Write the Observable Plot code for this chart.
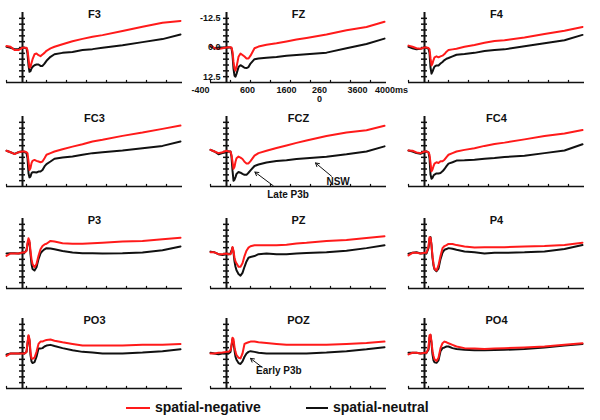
<!DOCTYPE html>
<html><head><meta charset="utf-8">
<script src="https://cdn.jsdelivr.net/npm/d3@7"></script>
<script src="https://cdn.jsdelivr.net/npm/@observablehq/plot@0.6"></script>
<style>
body{margin:0;background:#fff;}
#wrap{position:relative;width:600px;height:420px;font-family:"Liberation Sans",Arial,sans-serif;}
.panel{position:absolute;}
.leg{position:absolute;top:399px;font:bold 14px "Liberation Sans",Arial,sans-serif;color:#111;white-space:nowrap;line-height:16px;}
.legline{position:absolute;top:407px;height:2px;}
</style></head><body><div id="wrap"></div>
<script>
// time grid (ms)
const times = [-400,-300,-200,-100,0,50,100,125,150,175,200,225,250,300,350,400,450,500,550,600,700,800,1000,1250,1500,1750,2000,2500,3000,3500,3950];

// amplitudes (µV, negative plotted up)
const F3_neg = [-0.6,-0.3,1.1,1.1,0.1,0.1,0.1,1.1,4.7,8.6,8.3,6.6,5.1,2.9,2.6,3.3,3.7,3.0,2.3,1.4,0.4,-0.3,-1.4,-2.7,-3.7,-4.6,-5.3,-7.1,-8.9,-10.6,-11.4];
const F3_neu = [-0.3,0.1,0.7,0.6,0.1,0.1,0.3,2.6,7.6,10.4,10.1,9.0,8.3,7.6,7.3,7.3,7.9,7.9,6.9,5.7,4.0,2.9,2.3,1.9,1.1,0.7,0.1,-1.0,-2.3,-3.6,-5.6];
const FZ_neg = [-1.2,0.3,0.6,0.3,0,-0.1,-0.1,0,1.8,6.2,9.1,9.9,8.4,4.0,2.6,3.2,3.9,4.7,4.7,3.5,0.3,-0.4,-1.2,-1.8,-2.6,-3.4,-4.1,-5.6,-7.4,-8.8,-11.0];
const FZ_neu = [-0.4,0.3,0,0,0,0,0,0.3,3.2,9.1,12.1,12.5,11.3,8.4,7.6,8.1,8.7,8.8,8.4,6.9,5.0,4.7,4.4,4.1,3.5,3.2,2.9,2.2,0.3,-1.5,-3.8];
const F4_neg = [-0.8,-0.3,0.3,0.5,0,0,0.2,0.8,4.6,7.7,6.9,5.4,4.2,3.8,4.2,3.8,3.5,2.8,1.8,1.1,0.8,0.5,-0.3,-1.1,-2.0,-2.8,-3.1,-4.3,-5.8,-7.2,-8.8];
const F4_neu = [-0.3,0.3,0.8,0.5,0,0.2,0.5,2.3,8.5,11.2,10.3,9.2,8.2,7.7,7.7,6.9,6.2,5.4,4.8,4.5,3.8,3.1,2.8,2.3,1.5,1.1,0.8,-0.5,-1.8,-3.1,-5.4];
const FC3_neg = [-0.3,0.3,1.1,0.3,0,0,0.3,0.7,4.3,7.9,7.1,5.0,4.0,3.6,4.0,4.3,4.6,4.3,2.9,1.4,0.7,0,-1.0,-2.1,-3.1,-4.3,-5.0,-6.7,-8.1,-9.7,-11.1];
const FC3_neu = [-0.3,0.3,1.0,0.3,0,0.3,0.7,2.9,9.3,11.1,10.7,9.3,8.9,8.9,9.0,8.6,8.6,7.9,6.4,5.4,4.3,3.1,2.6,2.1,1.4,0.7,0.3,-0.4,-1.4,-2.4,-4.3];
const FCZ_neg = [-0.7,0,0.7,0.3,-0.3,0,0,1.5,4.4,7.4,6.6,4.4,2.9,2.2,2.6,3.2,4.4,5.1,5.1,4.1,1.8,0.7,-0.3,-1.5,-2.6,-3.7,-4.7,-6.6,-8.1,-9.1,-11.0];
const FCZ_neu = [-0.7,0,1.2,0.7,0.3,0,0,2.2,8.1,12.5,12.1,11.0,9.6,8.8,9.1,9.6,10.0,10.0,9.1,8.1,6.2,5.6,4.7,4.1,3.7,3.2,2.9,2.2,1.2,0,-2.2];
const FC4_neg = [-0.4,-0.3,0.4,0.7,0,0,0.4,1.4,4.9,8.5,7.7,6.3,5.2,4.6,4.9,4.2,4.2,3.5,2.4,1.4,0.7,0,-0.7,-1.4,-2.4,-3.2,-3.8,-5.2,-6.6,-7.7,-9.2];
const FC4_neu = [-0.4,0,0.7,1.0,0.3,0,0.4,2.8,9.9,11.7,11.3,10.3,9.9,9.4,9.4,9.2,8.5,7.5,6.3,5.2,4.6,3.9,3.8,3.5,3.1,2.8,2.4,1.8,0.7,-0.4,-3.1];
const P3_neg = [1.0,0,0,0,-0.4,-0.4,-1.1,-4.6,-6.5,-5.4,-1.1,2.4,4.5,5.9,4.5,1.0,-1.8,-3.2,-3.9,-4.2,-5.4,-5.1,-4.4,-4.2,-4.2,-4.4,-4.6,-5.1,-5.4,-6.1,-6.8];
const P3_neu = [0,-0.1,-0.1,0,-0.4,-0.4,-1.4,-3.9,-5.6,-4.6,0.3,4.5,6.6,7.3,5.9,2.4,0,-1.1,-1.8,-2.3,-2.1,-1.8,-1.1,-0.4,-0.1,-0.1,0,-0.1,-0.4,-1.4,-3.0];
const PZ_neg = [-0.5,-0.5,0.3,0.3,0,0.3,0.3,-0.5,-2.8,-1.2,1.8,3.4,4.2,5.7,5.7,4.2,1.1,-1.2,-2.5,-3.1,-3.5,-3.5,-3.5,-3.5,-3.8,-4.3,-4.6,-5.4,-5.8,-6.6,-7.4];
const PZ_neu = [-0.8,-0.5,0.3,0.6,0.3,0.3,0,-1.2,-2.5,-0.5,3.4,5.7,7.2,8.8,9.5,8.3,5.7,3.4,1.8,1.5,1.1,0.3,0,0.3,0.3,0,-0.2,-0.5,-1.2,-2.3,-3.5];
const P4_neg = [0.8,-0.3,-0.3,0,-0.3,-0.3,-3.0,-7.0,-6.8,-3.6,1.1,4.5,6.5,7.3,5.1,1.1,-2.3,-3.2,-3.6,-4.1,-4.1,-3.6,-3.0,-2.6,-2.7,-2.7,-2.7,-3.0,-3.2,-3.6,-4.6];
const P4_neu = [0.1,-0.3,-0.5,0,-0.3,0,-2.3,-6.3,-7.0,-3.6,1.8,5.1,6.8,7.6,6.5,2.4,-0.3,-1.6,-1.9,-2.3,-2.0,-1.6,-0.9,-0.5,0,-0.3,-0.3,-0.5,-0.9,-1.9,-3.6];
const PO3_neg = [1.0,0,0,0,0,0,-0.7,-4.8,-7.8,-6.2,-0.7,2.1,2.3,1.8,-0.7,-4.1,-5.1,-5.1,-5.5,-5.8,-6.0,-5.5,-4.8,-4.1,-3.4,-3.4,-3.4,-3.4,-3.7,-3.8,-4.1];
const PO3_neu = [0.4,0,0,0,-0.3,0,-0.7,-4.1,-7.5,-5.5,0.7,3.4,4.1,3.7,1.4,-2.1,-2.1,-2.3,-3.0,-3.4,-3.7,-3.2,-2.3,-1.4,-0.7,-0.4,0,0,-0.4,-1.0,-1.8];
const POZ_neg = [0,0,-0.3,-0.4,-0.7,-0.7,-1.4,-3.4,-6.8,-6.2,-2.7,-0.7,0.7,1.8,2.1,0,-4.1,-4.5,-4.8,-5.1,-5.1,-4.8,-4.5,-4.1,-3.7,-3.7,-3.7,-3.7,-4.1,-4.5,-5.1];
const POZ_neu = [-0.3,0,0.3,0,0,0,-0.7,-3.4,-6.2,-4.8,-1.4,1.4,2.7,4.1,4.5,3.4,1.4,0,-0.7,-1.0,-0.7,-0.3,0,0,0,0,0,-0.4,-1.0,-1.8,-2.7];
const PO4_neg = [0.4,-0.3,-0.3,0,-0.3,-0.3,-2.3,-7.8,-8.1,-5.1,-1.0,1.1,2.5,3.2,1.8,-2.3,-4.4,-5.1,-4.8,-4.4,-3.7,-3.0,-2.3,-2.1,-1.9,-2.1,-2.3,-2.6,-3.0,-3.7,-4.4];
const PO4_neu = [-0.3,-0.3,-0.3,0,-0.3,-0.3,-1.6,-6.7,-7.8,-4.4,0.4,2.9,3.8,4.0,2.9,-1.0,-2.3,-2.6,-3.0,-3.0,-2.3,-1.9,-1.6,-1.4,-1.4,-1.5,-1.6,-1.9,-2.6,-3.4,-4.1];

const channelNames = ["F3","FZ","F4","FC3","FCZ","FC4","P3","PZ","P4","PO3","POZ","PO4"];
const negSeries = [F3_neg,FZ_neg,F4_neg,FC3_neg,FCZ_neg,FC4_neg,P3_neg,PZ_neg,P4_neg,PO3_neg,POZ_neg,PO4_neg];
const neuSeries = [F3_neu,FZ_neu,F4_neu,FC3_neu,FCZ_neu,FC4_neu,P3_neu,PZ_neu,P4_neu,PO3_neu,POZ_neu,PO4_neu];

// axes
const xTicks = [-400,100,600,1100,1600,2100,2600,3100,3600];
const xTickValues = [-400,600,1600,2600,3600,4000];
const xTickLabels = ["-400","600","1600","260\n0","3600","4000ms"];
const yTicks = [-12.5,-10,-7.5,-5,-2.5,0,2.5,5,7.5,10,12.5];
const yTickValues = [-12.5,0,12.5];
const yTickLabels = ["-12.5","0.0","12.5"];

// annotations
const annoText = ["NSW","Late P3b","Early P3b"];
const annoChannel = ["FCZ","FCZ","POZ"];
const annoHeadT = [2225,710,600];
const annoHeadV = [4.9,8.8,2.1];
const annoTailT = [2625,1170,890];
const annoTailV = [10.6,14.7,5.9];
const annoLabelT = [2790,1540,1310];
const annoLabelV = [12.9,18.4,7.5];

const legendLabels = ["spatial-negative","spatial-neutral"];
const colors = ["#ff1a1a","#111111"];

const wrap = document.getElementById("wrap");
const colLeft = [6,210,408];
const rowTop = [12,116,218,318];
const W = 176, H = 70;
const ink = "#111";
// horizontal nudges of the FZ tick labels, as printed in the source figure
const xLabelNudge = [-10,-3,-4,-11,-13,5];

channelNames.forEach((name,i)=>{
  const col = i%3, row = Math.floor(i/3);
  const neg = negSeries[i], neu = neuSeries[i];
  const marks = [
    Plot.ruleY([15], {stroke: ink, strokeWidth: 1.5}),
    Plot.ruleX(xTicks, {x: d=>d, y1: 15, y2: 14.1, stroke: ink, strokeWidth: 1.2}),
    Plot.ruleX([0], {y1: -15, y2: 15, stroke: ink, strokeWidth: 2}),
    Plot.ruleY(yTicks, {y: d=>d, x1: -75, x2: 75, stroke: ink, strokeWidth: 1.5}),
    Plot.line(times, {x: d=>d, y: (d,k)=>neu[k], stroke: colors[1], strokeWidth: 2}),
    Plot.line(times, {x: d=>d, y: (d,k)=>neg[k], stroke: colors[0], strokeWidth: 2}),
    Plot.text([name], {text: d=>d, frameAnchor: "top", lineAnchor: "middle", dy: 2, fontWeight: "bold", fontSize: 11, fill: ink})
  ];
  if (name === "FZ") {
    marks.push(Plot.text(yTickValues, {x: 0, y: d=>d, text: (d,k)=>yTickLabels[k], textAnchor: "end", dx: -6, fontSize: 9, fontWeight: "bold", fill: ink}));
    xTickValues.forEach((v,k)=>{
      marks.push(Plot.text([v], {x: d=>d, y: 15, text: ()=>xTickLabels[k], lineAnchor: "top", dy: 4, dx: xLabelNudge[k], fontSize: 9, fontWeight: "bold", fill: ink, lineHeight: 1.0}));
    });
  }
  const idx = annoChannel.map((c,k)=>c===name?k:-1).filter(k=>k>=0);
  if (idx.length) {
    marks.push(Plot.arrow(idx, {x1: k=>annoTailT[k], y1: k=>annoTailV[k], x2: k=>annoHeadT[k], y2: k=>annoHeadV[k], stroke: ink, strokeWidth: 1, headLength: 6, bend: 0}));
    marks.push(Plot.text(idx, {x: k=>annoLabelT[k], y: k=>annoLabelV[k], text: k=>annoText[k], fontSize: 10, fontWeight: "bold", fill: ink}));
  }
  const svg = Plot.plot({
    width: W, height: H,
    marginLeft: 0, marginRight: 0, marginTop: 0, marginBottom: 0,
    x: {domain: [-400, 4000], axis: null},
    y: {domain: [-15, 15], reverse: true, axis: null},
    style: {background: "transparent", overflow: "visible", fontFamily: "'Liberation Sans', Arial, sans-serif"},
    marks
  });
  svg.classList.add("panel");
  svg.style.left = colLeft[col] + "px";
  svg.style.top = rowTop[row] + "px";
  wrap.appendChild(svg);
});

// legend
const legX = [[126,150,155],[306,328,333]];
legendLabels.forEach((lab,k)=>{
  const ln = document.createElement("div");
  ln.className = "legline";
  ln.style.left = legX[k][0]+"px";
  ln.style.width = (legX[k][1]-legX[k][0])+"px";
  ln.style.background = colors[k];
  wrap.appendChild(ln);
  const t = document.createElement("div");
  t.className = "leg";
  t.style.left = legX[k][2]+"px";
  t.textContent = lab;
  wrap.appendChild(t);
});
</script></body></html>
